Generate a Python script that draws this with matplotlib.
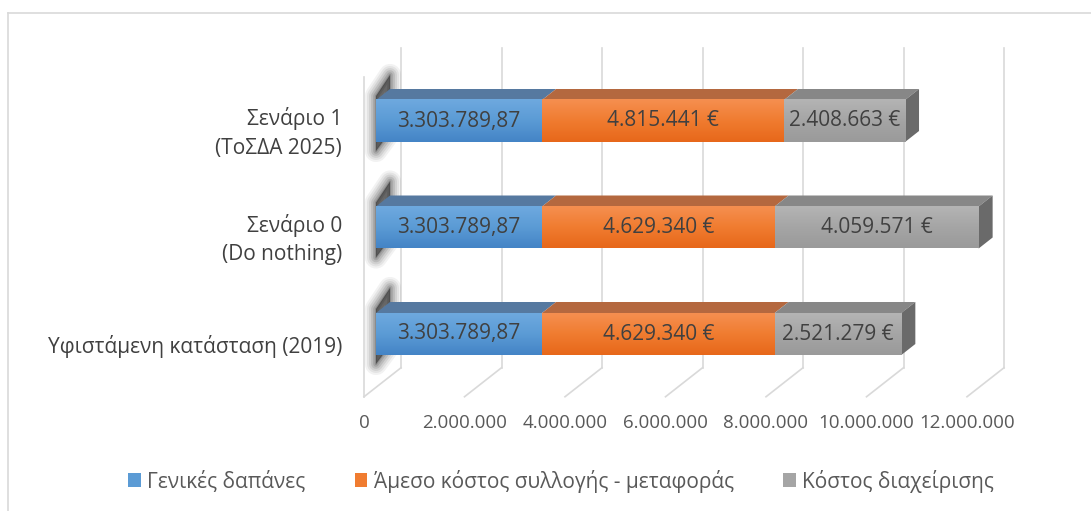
import matplotlib
matplotlib.use('Agg')
import matplotlib.pyplot as plt
import numpy as np
from matplotlib.patches import Polygon
from matplotlib.lines import Line2D
from matplotlib.transforms import ScaledTranslation
from matplotlib.colors import LinearSegmentedColormap

plt.rcParams['font.family'] = ['Open Sans', 'DejaVu Sans']

# data
categories = ['Υφιστάμενη κατάσταση (2019)', 'Σενάριο 0\n(Do nothing)', 'Σενάριο 1\n(ΤοΣΔΑ 2025)']
series_names = ['Γενικές δαπάνες', 'Άμεσο κόστος συλλογής - μεταφοράς', 'Κόστος διαχείρισης']
general = [3303789.87, 3303789.87, 3303789.87]
direct = [4629340, 4629340, 4815441]
manage = [2521279, 4059571, 2408663]
xticks = [0, 2e6, 4e6, 6e6, 8e6, 10e6, 12e6]
xtick_labels = ['0', '2.000.000', '4.000.000', '6.000.000', '8.000.000', '10.000.000', '12.000.000']


def fmt_general(v):
    s = f"{v:,.2f}"
    return s.replace(',', 'X').replace('.', ',').replace('X', '.')


def fmt_euro(v):
    return f"{int(round(v)):,}".replace(',', '.') + ' €'


# colours: (front top, front bottom, mid, top face)
styles = [
    ('#6EA9DF', '#4484C6', '#5B9BD5', '#5679A0'),
    ('#F58F50', '#E7671A', '#F07C30', '#B4683F'),
    ('#B4B4B4', '#9A9A9A', '#A5A5A5', '#878787'),
]
RIGHT_FACE = '#6A6A6A'
GRID = '#D9D9D9'
TXT = '#404040'
TICK = '#595959'

W, H = 1091, 511
fig = plt.figure(figsize=(W / 100, H / 100), dpi=100)

# front plane of the bars, in pixels
X0, AXW = 376, 603
YT, YB = 67.75, 387.25
ax = fig.add_axes([X0 / W, (H - YB) / H, AXW / W, (YB - YT) / H])
ax.axis('off')

PXX = 12e6 / AXW
PXY = 3 / (YB - YT)
FRONT = (-12, 9.5)
BACK = (25, -19.5)
DEPTH = (14, -11)


def off(dx, dy):
    return ax.transData + ScaledTranslation(dx / 100, -dy / 100, fig.dpi_scale_trans)


def shift(x, y, dx, dy):
    return (x + dx * PXX, y - dy * PXY)


# walls and gridlines
for v, lab in zip(xticks, xtick_labels):
    ax.plot([v, v], [-0.5, 2.5], transform=off(*BACK), color=GRID, lw=1.2,
            clip_on=False, zorder=1)
    b = shift(v, -0.5, *BACK)
    f = shift(v, -0.5, *FRONT)
    ax.plot([b[0], f[0]], [b[1], f[1]], color=GRID, lw=1.2, clip_on=False, zorder=1)
    ax.text(v, -0.5, lab, transform=off(FRONT[0], FRONT[1] + 26.5), ha='center',
            va='center', fontsize=13.5, color=TICK)
ax.plot([0, 0], [-0.5, 2.5], transform=off(*FRONT), color=GRID, lw=1.2,
        clip_on=False, zorder=1)

y = np.arange(len(categories))
h = 42 / 106.5

# soft left-end shadows
for yc in y:
    top, bot = yc + h / 2, yc - h / 2
    pts = [shift(0, bot, 0, 9), shift(0, top, 0, -4), shift(0, top, 14, -25), shift(0, bot, 14, -10)]
    for lw, a in [(16, 0.05), (13, 0.06), (10, 0.08), (7, 0.1), (4, 0.12), (1.5, 0.15)]:
        ax.add_patch(Polygon(pts, closed=True, fc='none', ec='black', lw=lw, alpha=a,
                             joinstyle='round', zorder=2, clip_on=False))
    ax.add_patch(Polygon(pts, closed=True, fc='#202020', ec='none', alpha=0.55, zorder=2,
                         clip_on=False))

grad = np.linspace(0, 1, 64).reshape(-1, 1)
lefts = np.zeros(len(categories))
handles = []
all_series = [general, direct, manage]
for si, vals in enumerate(all_series):
    vals = np.array(vals, dtype=float)
    c_top, c_bot, c_mid, c_face = styles[si]
    cont = ax.barh(y, vals, left=lefts, height=h, color=c_mid, lw=0, zorder=3,
                   label=series_names[si])
    handles.append(cont)
    cmap = LinearSegmentedColormap.from_list(f's{si}', [c_top, c_mid, c_bot])
    for i, p in enumerate(cont.patches):
        x0, y0 = p.get_x(), p.get_y()
        x1, y1 = x0 + p.get_width(), y0 + p.get_height()
        ax.imshow(grad, extent=[x0, x1, y0, y1], aspect='auto', cmap=cmap,
                  interpolation='bilinear', zorder=3.1)
        face = [(x0, y1), (x1, y1), shift(x1, y1, *DEPTH), shift(x0, y1, *DEPTH)]
        ax.add_patch(Polygon(face, closed=True, fc=c_face, ec='none', zorder=3,
                             clip_on=False))
        if si == len(all_series) - 1:
            side = [(x1, y0), (x1, y1), shift(x1, y1, *DEPTH), shift(x1, y0, *DEPTH)]
            ax.add_patch(Polygon(side, closed=True, fc=RIGHT_FACE, ec='none', zorder=3,
                                 clip_on=False))
        lab = fmt_general(vals[i]) if si == 0 else fmt_euro(vals[i])
        ax.text((x0 + x1) / 2, (y0 + y1) / 2, lab, ha='center', va='center',
                fontsize=15, color=TXT, zorder=5)
    lefts = lefts + vals

for yc, cat in zip(y, categories):
    ax.text(0, yc, cat, transform=off(-34, 12), ha='right', va='center',
            multialignment='right', linespacing=1.45, fontsize=15, color=TXT)

ax.set_xlim(0, 12e6)
ax.set_ylim(-0.5, 2.5)

fig.legend(handles=handles, labels=series_names, loc='center',
           bbox_to_anchor=(561 / W, 1 - 481 / H), ncol=3, frameon=False, fontsize=15,
           handlelength=0.62, handleheight=0.62, handletextpad=0.3, columnspacing=2.35,
           labelcolor=TICK)

# chart border (left and top)
fig.add_artist(Line2D([8 / W, 8 / W], [0, 1 - 13 / H], transform=fig.transFigure,
                      color=GRID, lw=1.2))
fig.add_artist(Line2D([8 / W, 1], [1 - 13 / H, 1 - 13 / H], transform=fig.transFigure,
                      color=GRID, lw=1.2))

fig.savefig('out.png', dpi=100)
